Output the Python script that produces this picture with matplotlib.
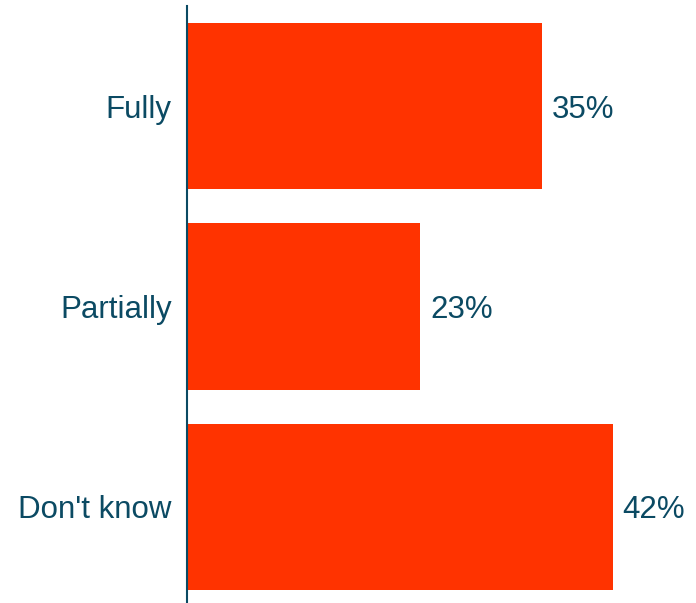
import matplotlib.pyplot as plt

categories = ["Fully", "Partially", "Don't know"]
values = [35, 23, 42]

bar_color = "#FF3300"
text_color = "#0B4A63"

plt.rcParams['font.family'] = ['Liberation Sans', 'DejaVu Sans']

fig = plt.figure(figsize=(6.96, 6.03), dpi=100)
ax = fig.add_axes([187/696, 0, 509/696, 597/603])

y = list(range(len(categories)))
ax.barh(y, values, height=0.83, color=bar_color)

for yi, v in zip(y, values):
    ax.annotate(f"{v}%", (v, yi), xytext=(7, 0), textcoords="offset points",
                va="center_baseline", ha="left", fontsize=22.5, color=text_color)

ax.set_yticks(y)
ax.set_yticklabels(categories, fontsize=22.5, color=text_color, va="center_baseline")
ax.tick_params(axis='y', length=0, pad=11)
ax.set_xticks([])
ax.set_xlim(0, 50.2)
ax.set_ylim(2.48, -0.5)

for side in ["top", "right", "bottom"]:
    ax.spines[side].set_visible(False)
ax.spines["left"].set_color(text_color)
ax.spines["left"].set_linewidth(1.5)

fig.savefig("out.png", dpi=100)
